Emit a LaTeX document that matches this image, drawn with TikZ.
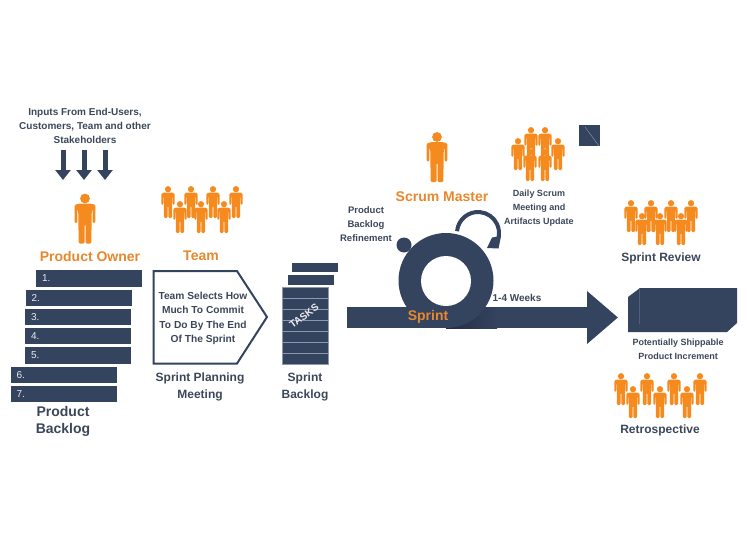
\documentclass[tikz,border=0pt]{standalone}
\usepackage{fontspec}
\setmainfont{Liberation Sans}
\usetikzlibrary{arrows.meta, positioning}
\definecolor{slate}{HTML}{34435E}
\definecolor{slatetext}{HTML}{3B4759}
\definecolor{shade}{HTML}{222D42}
\definecolor{edge}{HTML}{8D98AB}
\definecolor{figure}{HTML}{F58A1F}
\definecolor{heading}{HTML}{E8872C}
\tikzset{
  person/.pic={
    \fill [figure] (0, 5) circle (4.9);
    \fill [figure, rounded corners=1.2pt] (-6.5, 10.2) -- (-10.4, 11.5) -- (-10.4, 29.5) -- (-7.6, 29.5) -- (-7.6, 16) -- (-6.8, 16)
      -- (-6.3, 50) -- (-.5, 50) -- (-.5, 31) -- (.5, 31) -- (.5, 50) -- (6.3, 50) -- (6.8, 16) -- (7.6, 16)
      -- (7.6, 29.5) -- (10.4, 29.5) -- (10.4, 11.5) -- (6.5, 10.2) -- cycle;
  },
  small/.style={scale=.64},
  bar/.style={fill=slate, text=white!90!slate, text width=94pt, minimum height=16.5pt, inner xsep=6pt, inner ysep=0pt, align=left, font=\fontsize{10}{11}\selectfont},
  row/.style={fill=slate, draw=edge, line width=.5pt, outer sep=0pt, minimum width=46pt, minimum height=11pt, inner sep=0pt},
  title/.style={text=heading, font=\fontsize{14}{17}\selectfont\bfseries, inner sep=0pt},
  caption/.style={text=slatetext, align=center, inner sep=0pt, font=\fontsize{12}{17}\selectfont\bfseries},
  note/.style={text=slatetext, align=center, inner sep=0pt, font=\fontsize{9.5}{14.3}\selectfont\bfseries},
  input/.style={slate, line width=5pt, -{Triangle[length=10pt, width=15pt]}},
}
\begin{document}
\begin{tikzpicture}[x=1pt, y=-1pt]
    \useasboundingbox (0, 0) rectangle (747, 546);

    % inputs and product owner
    \node [note, font=\fontsize{10}{14.3}\selectfont\bfseries] (inputs) at (85, 126) {Inputs From End-Users,\\Customers, Team and other\\Stakeholders};
    \coordinate (in1) at (63, 150);
    \coordinate (in2) at (84, 150);
    \coordinate (in3) at (105, 150);
    \coordinate (out1) at (63, 180);
    \coordinate (out2) at (84, 180);
    \coordinate (out3) at (105, 180);
    \draw [input] (in1) -- (out1);
    \draw [input] (in2) -- (out2);
    \draw [input] (in3) -- (out3);
    \pic (owner) at (85, 193.5) {person};
    \node [title] (ownertext) at (90, 256) {Product Owner};

    % team
    \pic [small] (t1) at (168, 186) {person};
    \pic [small] (t2) at (191, 186) {person};
    \pic [small] (t3) at (213, 186) {person};
    \pic [small] (t4) at (236, 186) {person};
    \pic [small] (t5) at (180, 201) {person};
    \pic [small] (t6) at (201, 201) {person};
    \pic [small] (t7) at (224, 201) {person};
    \node [title] (teamtext) at (201, 255.5) {Team};

    % product backlog
    \node [bar] (b1) at (89, 278.5) {1.};
    \node [bar] (b2) at (78.5, 298) {2.};
    \node [bar] (b3) at (78, 317) {3.};
    \node [bar] (b4) at (78, 336) {4.};
    \node [bar] (b5) at (78, 355.5) {5.};
    \node [bar] (b6) at (63.5, 375) {6.};
    \node [bar] (b7) at (63.5, 394) {7.};
    \node [title, text=slatetext, align=center] (backlogtext) at (63, 421.5) {Product\\Backlog};

    % sprint planning
    \draw [slate, line width=2pt] (153.5, 271) -- (237, 271) -- (267, 317) -- (237, 363.5) -- (153.5, 363.5) -- cycle;
    \node [note, font=\fontsize{10.2}{14.3}\selectfont\bfseries] (select) at (203, 318.5) {Team Selects How\\Much To Commit\\To Do By The End\\Of The Sprint};
    \node [caption] (planning) at (200, 386.5) {Sprint Planning\\Meeting};

    % sprint backlog
    \node [fill=slate, minimum width=46pt, minimum height=9.5pt, inner sep=0pt] (top1) at (315, 267.5) {};
    \node [fill=slate, minimum width=46pt, minimum height=10pt, inner sep=0pt] (top2) at (311, 280) {};
    \node [row] (s1) at (305.5, 292.5) {};
    \node [row, below=0pt of s1] (s2) {};
    \node [row, below=0pt of s2] (s3) {};
    \node [row, below=0pt of s3] (s4) {};
    \node [row, below=0pt of s4] (s5) {};
    \node [row, below=0pt of s5] (s6) {};
    \node [row, below=0pt of s6] (s7) {};
    \node [text=white!90!slate, rotate=36, inner sep=0pt, font=\fontsize{10}{11}\selectfont\bfseries] (tasks) at (304, 316) {TASKS};
    \node [caption] (sprintlog) at (305, 386.5) {Sprint\\Backlog};

    % sprint
    \coordinate (start) at (347, 317.5);
    \coordinate (end) at (618, 317.5);
    \draw [slate, line width=21pt, -{Triangle[length=31pt, width=51pt]}] (start) -- (end);
    \shade [left color=shade, right color=slate] (446, 307) rectangle (497, 328);
    \draw [slate, line width=4pt] (478, 233) ++(185:21) arc [start angle=185, end angle=372, radius=21];
    \fill [slate] (487, 248) -- (498.5, 248.5) -- (501, 236) -- (492, 237.5) -- cycle;
    \node [fill=slate, circle, minimum size=15pt, inner sep=0pt] (dot) at (404, 245) {};
    \node [fill=slate, circle, minimum size=95pt, inner sep=0pt] (ring) at (446, 280.5) {};
    \node [fill=white, circle, minimum size=50pt, inner sep=0pt] (hole) at (446, 281) {};
    \node [title] (sprint) at (428, 317) {Sprint};
    \node [note, font=\fontsize{10}{12}\selectfont\bfseries] (weeks) at (517, 298) {1-4 Weeks};
    \node [note] (refine) at (366, 224) {Product\\Backlog\\Refinement};

    % scrum master
    \pic (master) at (437, 132) {person};
    \node [title] (mastertext) at (442, 197) {Scrum Master};

    % daily scrum
    \pic [small] (d1) at (518, 138) {person};
    \pic [small] (d2) at (531, 127) {person};
    \pic [small] (d3) at (545, 127) {person};
    \pic [small] (d4) at (558, 138) {person};
    \pic [small] (d5) at (530, 149) {person};
    \pic [small] (d6) at (545, 149) {person};
    \node [note, font=\fontsize{9}{14.3}\selectfont\bfseries] (daily) at (539, 208) {Daily Scrum\\Meeting and\\Artifacts Update};
    \node [fill=slate, minimum size=21pt, inner sep=0pt] (square) at (589.5, 135.5) {};
    \draw [edge, line width=.4pt] (585, 127) -- (599, 146);

    % sprint review
    \pic [small] (r1) at (631, 200) {person};
    \pic [small] (r2) at (651, 200) {person};
    \pic [small] (r3) at (671, 200) {person};
    \pic [small] (r4) at (691, 200) {person};
    \pic [small] (r5) at (642, 213) {person};
    \pic [small] (r6) at (660, 213) {person};
    \pic [small] (r7) at (681, 213) {person};
    \node [caption] (review) at (661, 258) {Sprint Review};

    % increment
    \fill [slate] (628, 297) -- (640, 288) -- (737, 288) -- (737, 323) -- (727, 332) -- (628, 332) -- cycle;
    \draw [slate!85!white, line width=.4pt] (639.5, 288) -- (639.5, 324);
    \node [note, font=\fontsize{9}{14.3}\selectfont\bfseries] (increment) at (678, 349.5) {Potentially Shippable\\Product Increment};

    % retrospective
    \pic [small] (p1) at (621, 373) {person};
    \pic [small] (p2) at (647, 373) {person};
    \pic [small] (p3) at (674, 373) {person};
    \pic [small] (p4) at (700, 373) {person};
    \pic [small] (p5) at (633, 386) {person};
    \pic [small] (p6) at (660, 386) {person};
    \pic [small] (p7) at (687, 386) {person};
    \node [caption] (retro) at (660, 430) {Retrospective};
  \end{tikzpicture}
\end{document}
